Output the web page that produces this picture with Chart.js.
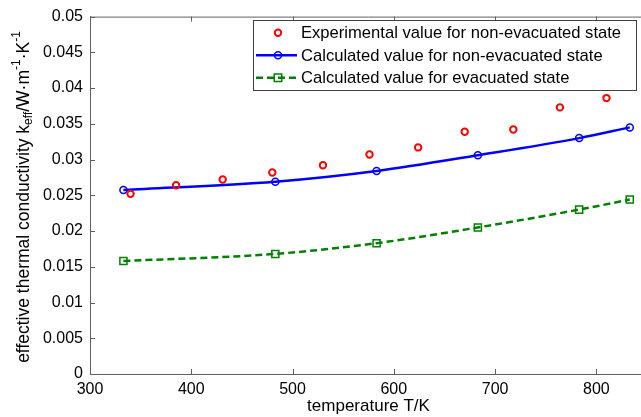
<!DOCTYPE html>
<html>
<head>
<meta charset="utf-8">
<script src="https://cdn.jsdelivr.net/npm/chart.js@4/dist/chart.umd.min.js"></script>
<style>
  html, body { margin: 0; padding: 0; background: #fff; overflow: hidden; }
  #wrap { width: 660px; height: 417px; }
</style>
</head>
<body>
<div id="wrap"><canvas id="chart" width="660" height="417"></canvas></div>
<script>
// temperatures (K) and conductivities
const expT = [340, 385, 431, 480, 530, 576, 624, 670, 718, 764, 810];
const expK = [0.0252, 0.0264, 0.0272, 0.0282, 0.0292, 0.0307, 0.0317, 0.0339, 0.0342, 0.0373, 0.0386];
const calcT = [333, 483, 583, 683, 783, 833];
const calcK = [0.02575, 0.0269, 0.0284, 0.0306, 0.0330, 0.0345];
const evacK = [0.0158, 0.0168, 0.0183, 0.0205, 0.0230, 0.0244];
const xTicks = [300, 400, 500, 600, 700, 800];
const yTicks = [0, 0.005, 0.01, 0.015, 0.02, 0.025, 0.03, 0.035, 0.04, 0.045, 0.05];
const labels = [
  'Experimental value for non-evacuated state',
  'Calculated value for non-evacuated state',
  'Calculated value for evacuated state'
];

const FONT = "'Liberation Sans', Arial, sans-serif";
const AXIS = '#606060';

function pts(xs, ys) {
  return xs.map((x, i) => ({ x: x, y: ys[i] }));
}

// box, inward ticks, legend and y label (MATLAB look)
const matlabFrame = {
  id: 'matlabFrame',
  afterDraw(chart) {
    const ctx = chart.ctx;
    const a = chart.chartArea;
    const xs = chart.scales.x, ys = chart.scales.y;
    ctx.save();
    ctx.strokeStyle = AXIS;
    ctx.lineWidth = 1;
    ctx.beginPath();
    ctx.moveTo(a.left, a.top + 0.5); ctx.lineTo(a.right, a.top + 0.5);
    ctx.moveTo(a.right - 0.5, a.top); ctx.lineTo(a.right - 0.5, a.bottom);
    xs.ticks.forEach(t => {
      const px = Math.round(xs.getPixelForValue(t.value)) + 0.5;
      ctx.moveTo(px, a.bottom); ctx.lineTo(px, a.bottom - 5);
      ctx.moveTo(px, a.top); ctx.lineTo(px, a.top + 5);
    });
    ys.ticks.forEach(t => {
      const py = Math.round(ys.getPixelForValue(t.value)) + 0.5;
      ctx.moveTo(a.left, py); ctx.lineTo(a.left + 5, py);
      ctx.moveTo(a.right, py); ctx.lineTo(a.right - 5, py);
    });
    ctx.stroke();

    // legend
    const lx = 253.5, ly = 20.5, lw = 383, lh = 70;
    ctx.fillStyle = '#fff';
    ctx.fillRect(lx, ly, lw, lh);
    ctx.strokeStyle = '#404040';
    ctx.strokeRect(lx, ly, lw, lh);
    const rows = [32.7, 55.3, 77.7];
    chart.data.datasets.forEach((ds, i) => {
      const y = rows[i];
      ctx.strokeStyle = ds.borderColor;
      if (ds.showLine) {
        ctx.lineWidth = ds.borderWidth;
        ctx.setLineDash(ds.borderDash || []);
        ctx.beginPath();
        ctx.moveTo(256, y); ctx.lineTo(297, y);
        ctx.stroke();
        ctx.setLineDash([]);
      }
      ctx.lineWidth = ds.pointBorderWidth;
      ctx.strokeStyle = ds.pointBorderColor;
      ctx.beginPath();
      if (ds.pointStyle === 'rect') {
        const r = ds.pointRadius * 0.75;
        ctx.rect(278 - r, y - r, 2 * r, 2 * r);
      } else {
        ctx.arc(278, y, ds.pointRadius, 0, Math.PI * 2);
      }
      ctx.stroke();
      ctx.fillStyle = '#000';
      ctx.font = '16.6px ' + FONT;
      ctx.textBaseline = 'middle';
      ctx.textAlign = 'left';
      ctx.fillText(labels[i], 301, y + 1);
    });

    // y axis label with sub/superscripts
    const parts = [
      ['effective thermal conductivity k', 17.5, 0],
      ['eff', 12, 5],
      ['/W\u00b7m', 17.5, 0],
      ['-1', 12, -7],
      ['\u00b7K', 17.5, 0],
      ['-1', 12, -7]
    ];
    let total = 0;
    parts.forEach(p => { ctx.font = p[1] + 'px ' + FONT; total += ctx.measureText(p[0]).width; });
    ctx.translate(24, 197);
    ctx.rotate(-Math.PI / 2);
    ctx.fillStyle = '#000';
    ctx.textBaseline = 'middle';
    ctx.textAlign = 'left';
    let x = -total / 2;
    parts.forEach(p => {
      ctx.font = p[1] + 'px ' + FONT;
      ctx.fillText(p[0], x, p[2]);
      x += ctx.measureText(p[0]).width;
    });
    ctx.restore();
  }
};

new Chart(document.getElementById('chart'), {
  type: 'scatter',
  data: {
    datasets: [
      {
        label: labels[0],
        data: pts(expT, expK),
        showLine: false,
        borderColor: '#ff0000',
        pointBorderColor: '#ff0000',
        pointBackgroundColor: 'rgba(0,0,0,0)',
        pointStyle: 'circle',
        pointRadius: 3.2,
        pointBorderWidth: 2
      },
      {
        label: labels[1],
        data: pts(calcT, calcK),
        showLine: true,
        cubicInterpolationMode: 'monotone',
        borderColor: '#0000ff',
        borderWidth: 2.5,
        pointBorderColor: '#0000ff',
        pointBackgroundColor: 'rgba(0,0,0,0)',
        pointStyle: 'circle',
        pointRadius: 3.5,
        pointBorderWidth: 1.5
      },
      {
        label: labels[2],
        data: pts(calcT, evacK),
        showLine: true,
        cubicInterpolationMode: 'monotone',
        borderColor: '#008000',
        borderWidth: 2.5,
        borderDash: [7, 4],
        pointBorderColor: '#008000',
        pointBackgroundColor: 'rgba(0,0,0,0)',
        pointStyle: 'rect',
        pointRadius: 5,
        pointBorderWidth: 1.5
      }
    ]
  },
  options: {
    responsive: false,
    animation: false,
    layout: { padding: { top: 14, right: 13, left: 0, bottom: 0 } },
    plugins: {
      legend: { display: false },
      tooltip: { enabled: false }
    },
    scales: {
      x: {
        type: 'linear',
        min: 300,
        max: 850,
        afterBuildTicks: s => { s.ticks = xTicks.map(v => ({ value: v })); },
        afterFit: s => { s.height = 43; },
        grid: { display: true, drawOnChartArea: false, drawTicks: false },
        border: { display: true, color: AXIS, width: 1 },
        ticks: { color: '#000', padding: 6, font: { family: FONT, size: 16 } },
        title: {
          display: true,
          text: 'temperature T/K',
          color: '#000',
          font: { family: FONT, size: 17 },
          padding: { top: 0, bottom: 0 }
        }
      },
      y: {
        type: 'linear',
        min: 0,
        max: 0.05,
        afterBuildTicks: s => { s.ticks = yTicks.map(v => ({ value: v })); },
        afterFit: s => { s.width = 90; },
        grid: { display: true, drawOnChartArea: false, drawTicks: false },
        border: { display: true, color: AXIS, width: 1 },
        ticks: {
          color: '#000',
          padding: 7,
          font: { family: FONT, size: 16 },
          callback: v => String(+v.toFixed(3))
        }
      }
    }
  },
  plugins: [matlabFrame]
});
</script>
</body>
</html>
